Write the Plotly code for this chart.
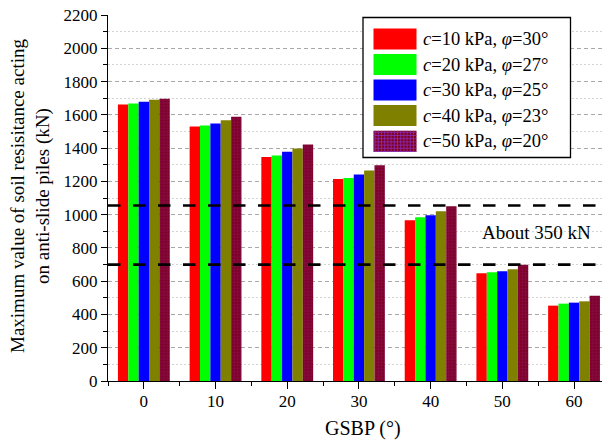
import plotly.graph_objects as go

# Gradient of sliding bed plane (GSBP, degrees)
gsbp = [0, 10, 20, 30, 40, 50, 60]

# Soil strength parameter combinations
cohesion = [10, 20, 30, 40, 50]      # kPa
friction = [30, 27, 25, 23, 20]      # degrees

# Maximum soil resistance acting on anti-slide piles (kN)
resist_c10 = [1662, 1530, 1346, 1214, 966, 647, 453]
resist_c20 = [1668, 1536, 1355, 1220, 984, 653, 465]
resist_c30 = [1679, 1548, 1378, 1242, 996, 659, 471]
resist_c40 = [1691, 1567, 1398, 1266, 1020, 671, 479]
resist_c50 = [1697, 1589, 1422, 1297, 1050, 699, 513]
series = [resist_c10, resist_c20, resist_c30, resist_c40, resist_c50]

colors = ["#ff0000", "#00ff00", "#0000ff", "#808000", "#800022"]
hatch_color = "#8a2cb8"

# Reference levels bracketing the spread at GSBP = 40-50
ref_levels = [1055, 700]
note_text = "About 350 kN"

names = [f"<i>c</i>={c} kPa, <i>φ</i>={f}°" for c, f in zip(cohesion, friction)]

FONT = "'Liberation Serif', 'Times New Roman', Times, serif"
W, H = 604, 441
L, R, T, B = 108, 2, 15, 60
PW, PH = W - L - R, H - T - B


def fx(px):
    return (px - L) / PW


def fy(py):
    return (H - B - py) / PH


fig = go.Figure()
for i, (vals, col) in enumerate(zip(series, colors)):
    marker = dict(color=col, line=dict(width=0))
    if i == len(series) - 1:
        marker["pattern"] = dict(shape="+", size=3.2, solidity=0.25,
                                 fgcolor=hatch_color, fillmode="overlay")
    fig.add_trace(go.Bar(x=gsbp, y=vals, name=names[i], marker=marker,
                         showlegend=False))

shapes = []
# Horizontal reference lines
for lvl in ref_levels:
    shapes.append(dict(type="line", xref="paper", x0=0, x1=1, yref="y",
                       y0=lvl, y1=lvl, layer="above",
                       line=dict(color="black", width=2.7, dash="12.5px,12.5px")))

# Legend box
shapes.append(dict(type="rect", xref="paper", yref="paper",
                   x0=fx(363), x1=fx(570.5), y0=fy(157.5), y1=fy(17.5),
                   fillcolor="white", line=dict(color="black", width=1.3),
                   layer="above"))
annotations = []
sw_x0, sw_x1 = 373.5, 416.5
row_top = [28.5, 54, 79.5, 105, 130.7]
sw_h = 21
for i, (col, name) in enumerate(zip(colors, names)):
    y0, y1 = row_top[i], row_top[i] + sw_h
    shapes.append(dict(type="rect", xref="paper", yref="paper",
                       x0=fx(sw_x0), x1=fx(sw_x1), y0=fy(y1), y1=fy(y0),
                       fillcolor=col, line=dict(width=0), layer="above"))
    if i == len(colors) - 1:
        step = 3.2
        gx = sw_x0 + step / 2
        while gx < sw_x1:
            shapes.append(dict(type="line", xref="paper", yref="paper",
                               x0=fx(gx), x1=fx(gx), y0=fy(y1), y1=fy(y0),
                               line=dict(color=hatch_color, width=0.8),
                               layer="above"))
            gx += step
        gy = y0 + step / 2
        while gy < y1:
            shapes.append(dict(type="line", xref="paper", yref="paper",
                               x0=fx(sw_x0), x1=fx(sw_x1), y0=fy(gy), y1=fy(gy),
                               line=dict(color=hatch_color, width=0.8),
                               layer="above"))
            gy += step
    annotations.append(dict(xref="paper", yref="paper", x=fx(420.5),
                            y=fy((y0 + y1) / 2), xanchor="left",
                            yanchor="middle", showarrow=False, text=name,
                            font=dict(family=FONT, size=18.5, color="black")))

# Spread annotation
annotations.append(dict(x=54.8, y=893, xref="x", yref="y", text=note_text,
                        showarrow=False, xanchor="center", yanchor="middle",
                        font=dict(family=FONT, size=19, color="black")))

# Axis titles
annotations.append(dict(xref="paper", yref="paper", x=fx(30), y=fy(196),
                        xanchor="center", yanchor="middle", textangle=-90,
                        showarrow=False,
                        text="Maximum value of soil resisitance acting<br>on anti-slide piles (kN)",
                        font=dict(family=FONT, size=19, color="black")))
annotations.append(dict(xref="paper", yref="paper", x=fx(363), y=fy(428),
                        xanchor="center", yanchor="middle", showarrow=False,
                        text="GSBP (°)",
                        font=dict(family=FONT, size=20, color="black")))

fig.update_layout(
    width=W, height=H,
    margin=dict(l=L, r=R, t=T, b=B, pad=0),
    paper_bgcolor="white", plot_bgcolor="white",
    barmode="group", bargap=0.277, bargroupgap=0,
    font=dict(family=FONT, size=17, color="black"),
    shapes=shapes, annotations=annotations,
    showlegend=False,
)
fig.update_xaxes(
    range=[-5, 63.9], tickmode="array", tickvals=gsbp,
    ticks="outside", ticklen=7, tickwidth=1.3, tickcolor="black",
    ticklabelstandoff=-3,
    showline=True, linecolor="black", linewidth=1.4,
    showgrid=False, zeroline=False,
    tickfont=dict(family=FONT, size=17),
    minor=dict(tickmode="array", tickvals=[-5, 5, 15, 25, 35, 45, 55],
               ticks="outside", ticklen=4, tickwidth=1.3, tickcolor="black",
               showgrid=False),
)
fig.update_yaxes(
    range=[0, 2200], tick0=0, dtick=200,
    ticks="outside", ticklen=6, tickwidth=1.3, tickcolor="black",
    showline=True, linecolor="black", linewidth=1.4,
    showgrid=True, gridcolor="#a8a8a8", gridwidth=1, griddash="4px,3px",
    zeroline=False,
    tickfont=dict(family=FONT, size=17),
    minor=dict(dtick=100, ticks="outside", ticklen=4, tickwidth=1.3,
               tickcolor="black", showgrid=True, gridcolor="#d4d4d4",
               gridwidth=1, griddash="2px,2px"),
)

fig.write_html("out.html")
